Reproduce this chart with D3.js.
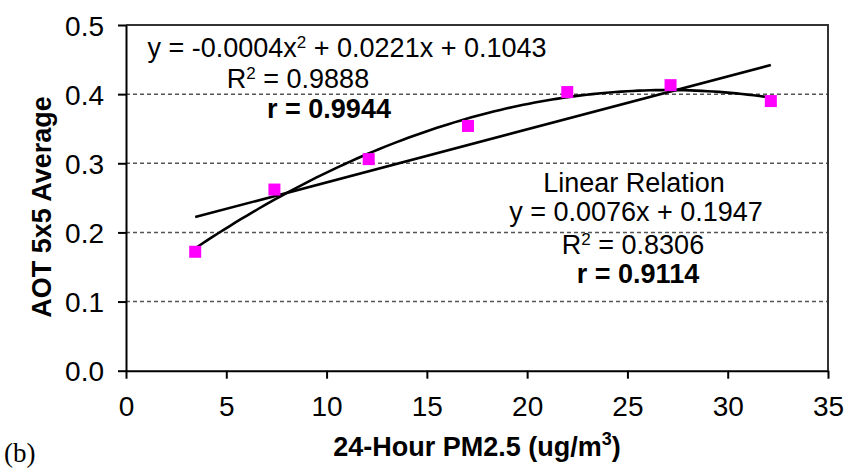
<!DOCTYPE html>
<html>
<head>
<meta charset="utf-8">
<script src="https://cdn.jsdelivr.net/npm/d3@7/dist/d3.min.js"></script>
<style>
  body { margin: 0; background: #fff; }
  svg { display: block; }
  text { fill: #000; }
</style>
</head>
<body>
<svg id="chart" width="846" height="469"></svg>
<script>
// ---- data ----
const pm25 = [3.45, 7.4, 12.1, 17.05, 22.0, 27.15, 32.15];
const aot  = [0.172, 0.262, 0.306, 0.354, 0.403, 0.413, 0.390];
const xTicks = [0, 5, 10, 15, 20, 25, 30, 35];
const yTicks = [0.0, 0.1, 0.2, 0.3, 0.4, 0.5];
const gridValues = [0.1, 0.2, 0.3, 0.4];
const polyText = ["y = -0.0004x", "2", " + 0.0221x + 0.1043"];
const polyR2 = "0.9888";
const polyR = "r = 0.9944";
const linTitle = "Linear Relation";
const linText = "y = 0.0076x + 0.1947";
const linR2 = "0.8306";
const linR = "r = 0.9114";

const SANS = "'Liberation Sans', Arial, sans-serif";
const SERIF = "'Liberation Serif', 'Times New Roman', serif";

// ---- layout ----
const svg = d3.select("#chart").style("font-family", SANS);
const L = 126, R = 828, T = 25, B = 370.7;
const x = d3.scaleLinear().domain([0, 35]).range([L, R]);
const y = d3.scaleLinear().domain([0, 0.5]).range([B, T]);

// ---- fits (least squares from points) ----
function solve3(A, b) {
  const M = A.map((r, i) => r.concat([b[i]]));
  for (let i = 0; i < 3; i++) {
    let p = i;
    for (let k = i + 1; k < 3; k++) if (Math.abs(M[k][i]) > Math.abs(M[p][i])) p = k;
    [M[i], M[p]] = [M[p], M[i]];
    for (let k = i + 1; k < 3; k++) {
      const f = M[k][i] / M[i][i];
      for (let j = i; j < 4; j++) M[k][j] -= f * M[i][j];
    }
  }
  const s = [0, 0, 0];
  for (let i = 2; i >= 0; i--) {
    let v = M[i][3];
    for (let j = i + 1; j < 3; j++) v -= M[i][j] * s[j];
    s[i] = v / M[i][i];
  }
  return s;
}
const n = pm25.length;
const S = k => d3.sum(pm25, v => Math.pow(v, k));
const SY = k => d3.sum(pm25, (v, i) => Math.pow(v, k) * aot[i]);
const quad = solve3([[n, S(1), S(2)], [S(1), S(2), S(3)], [S(2), S(3), S(4)]], [SY(0), SY(1), SY(2)]);
const mx = d3.mean(pm25), my = d3.mean(aot);
const slope = d3.sum(pm25, (v, i) => (v - mx) * (aot[i] - my)) / d3.sum(pm25, v => (v - mx) * (v - mx));
const icpt = my - slope * mx;
const x0 = d3.min(pm25), x1 = d3.max(pm25);

// ---- gridlines ----
svg.append("g").selectAll("line").data(gridValues).join("line")
  .attr("x1", L).attr("x2", R)
  .attr("y1", d => y(d)).attr("y2", d => y(d))
  .attr("stroke", "#555").attr("stroke-width", 1.5)
  .attr("stroke-dasharray", "4,3");

// ---- frame (top/right) ----
svg.append("path")
  .attr("d", `M${L},${T}H${R}V${B}`)
  .attr("fill", "none").attr("stroke", "#333").attr("stroke-width", 2);

// ---- axes ----
const xAxis = d3.axisBottom(x).tickValues(xTicks).tickFormat(d3.format("d")).tickSize(8).tickSizeOuter(0);
const gx = svg.append("g").attr("transform", `translate(0,${B})`).call(xAxis);
const yAxis = d3.axisLeft(y).tickValues(yTicks).tickFormat(d3.format(".1f")).tickSize(8).tickSizeOuter(0);
const gy = svg.append("g").attr("transform", `translate(${L},0)`).call(yAxis);
[gx, gy].forEach(g => {
  g.attr("font-family", null).attr("font-size", null);
  g.select(".domain").attr("stroke", "#000").attr("stroke-width", 2);
  g.selectAll(".tick line").attr("stroke", "#000").attr("stroke-width", 2);
  g.selectAll(".tick text").style("font-family", SANS)
    .style("font-size", "28px").attr("fill", "#000");
});
gx.selectAll(".tick text").attr("dy", 0).attr("y", 45);
gy.selectAll(".tick text").attr("x", -22).attr("dy", "0.36em");

// ---- trendlines ----
const xs = d3.range(0, 101).map(i => x0 + (x1 - x0) * i / 100);
const line = d3.line().x(d => x(d[0])).y(d => y(d[1]));
svg.append("path")
  .attr("d", line(xs.map(v => [v, quad[0] + quad[1] * v + quad[2] * v * v])))
  .attr("fill", "none").attr("stroke", "#000").attr("stroke-width", 2.6);
svg.append("path")
  .attr("d", line([[x0, icpt + slope * x0], [x1, icpt + slope * x1]]))
  .attr("fill", "none").attr("stroke", "#000").attr("stroke-width", 2.6);

// ---- points ----
const ms = 12;
svg.append("g").selectAll("rect").data(pm25).join("rect")
  .attr("x", d => x(d) - ms / 2)
  .attr("y", (d, i) => y(aot[i]) - ms / 2)
  .attr("width", ms).attr("height", ms)
  .attr("fill", "#ff00ff");

// ---- annotations ----
const ann = svg.append("g").style("font-size", "27px");
const t1 = ann.append("text").attr("x", 347).attr("y", 57).attr("text-anchor", "middle");
t1.append("tspan").text(polyText[0]);
t1.append("tspan").style("font-size", "17px").attr("dy", -9).text(polyText[1]);
t1.append("tspan").attr("dy", 9).text(polyText[2]);

function r2(xc, yb, val) {
  const t = ann.append("text").attr("x", xc).attr("y", yb).attr("text-anchor", "middle");
  t.append("tspan").text("R");
  t.append("tspan").style("font-size", "17px").attr("dy", -9).text("2");
  t.append("tspan").attr("dy", 9).text(" = " + val);
}
r2(298, 88, polyR2);
ann.append("text").attr("x", 329).attr("y", 118).attr("text-anchor", "middle")
  .style("font-weight", "bold").text(polyR);

ann.append("text").attr("x", 634).attr("y", 192).attr("text-anchor", "middle").text(linTitle);
ann.append("text").attr("x", 636).attr("y", 221).attr("text-anchor", "middle").text(linText);
r2(633, 254, linR2);
ann.append("text").attr("x", 638).attr("y", 283).attr("text-anchor", "middle")
  .style("font-weight", "bold").text(linR);

// ---- axis titles ----
const xt = svg.append("text").attr("x", 477).attr("y", 456).attr("text-anchor", "middle")
  .style("font-size", "27px").style("font-weight", "bold");
xt.append("tspan").text("24-Hour PM2.5 (ug/m");
xt.append("tspan").style("font-size", "18px").attr("dy", -11).text("3");
xt.append("tspan").attr("dy", 11).text(")");

svg.append("text").attr("transform", "translate(51,207) rotate(-90)")
  .attr("text-anchor", "middle").style("font-size", "27px").style("font-weight", "bold")
  .text("AOT 5x5 Average");

svg.append("text").attr("x", 4).attr("y", 462)
  .style("font-family", SERIF)
  .style("font-size", "27px").text("(b)");
</script>
</body>
</html>
